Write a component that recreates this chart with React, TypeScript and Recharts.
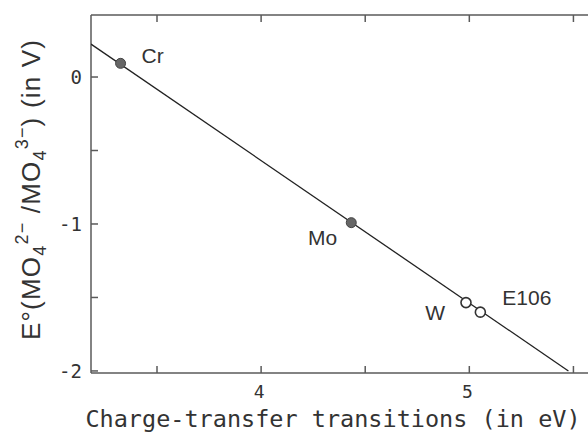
import { ScatterChart, Scatter, XAxis, YAxis } from 'recharts';

// Group 6 oxo-anions and the superheavy E106 analogue
const elements = ['Cr', 'Mo', 'W', 'E106'];
const transitionEnergy = [3.325, 4.433, 4.984, 5.053];
const redoxPotential = [0.093, -0.991, -1.535, -1.6];
const filled = [true, true, false, false];

// end points of the fitted correlation line
const fitEnergy = [3.183, 5.476];
const fitPotential = [0.224, -2.0];

const xTicks = [3.5, 4, 4.5, 5, 5.5];
const yTicks = [0, -0.5, -1, -1.5, -2];

const points = elements.map((name, i) => ({
  name,
  x: transitionEnergy[i],
  y: redoxPotential[i],
  filled: filled[i],
}));
const fitLine = fitEnergy.map((x, i) => ({ x, y: fitPotential[i] }));

const AXIS = '#5a5a5a';
const INK = '#222';
const MONO = '"DejaVu Sans Mono", monospace';
const SANS = '"Liberation Sans", Arial, sans-serif';

// where each element name sits relative to its marker
const labelPos: Record<string, { dx: number; dy: number; anchor: 'start' | 'end' }> = {
  Cr: { dx: 21, dy: 0, anchor: 'start' },
  Mo: { dx: -14, dy: 22, anchor: 'end' },
  W: { dx: -21, dy: 17, anchor: 'end' },
  E106: { dx: 22, dy: -7, anchor: 'start' },
};

const isWhole = (v: number) => Math.abs(v - Math.round(v)) < 1e-6;

function BottomTick({ x, y, payload }: any) {
  return (
    <g>
      <line x1={x} y1={y} x2={x} y2={y - 7} stroke={AXIS} strokeWidth={1.5} />
      {isWhole(payload.value) && (
        <text x={x - 2} y={y + 25} textAnchor="middle" fontFamily={MONO} fontSize={18} fill="#333">
          {payload.value}
        </text>
      )}
    </g>
  );
}

function TopTick({ x, y }: any) {
  return <line x1={x} y1={y} x2={x} y2={y + 7} stroke={AXIS} strokeWidth={1.5} />;
}

function LeftTick({ x, y, payload }: any) {
  return (
    <g>
      <line x1={x} y1={y} x2={x + 7} y2={y} stroke={AXIS} strokeWidth={1.5} />
      {isWhole(payload.value) && (
        <text x={x - 9} y={y + 7} textAnchor="end" fontFamily={MONO} fontSize={19} fill="#333">
          {payload.value === 0 ? '0' : `-${Math.abs(payload.value)}`}
        </text>
      )}
    </g>
  );
}

function ElementMarker({ cx, cy, payload }: any) {
  const pos = labelPos[payload.name];
  return (
    <g>
      {payload.filled ? (
        <circle cx={cx} cy={cy} r={5} fill="#666" stroke="#444" strokeWidth={1} />
      ) : (
        <circle cx={cx} cy={cy} r={5} fill="#fff" stroke="#333" strokeWidth={1.6} />
      )}
      <text
        x={cx + pos.dx}
        y={cy + pos.dy}
        textAnchor={pos.anchor}
        fontFamily={SANS}
        fontSize={21}
        fill="#333"
      >
        {payload.name}
      </text>
    </g>
  );
}

function YTitle() {
  return (
    <text
      transform="translate(40, 190) rotate(-90)"
      textAnchor="middle"
      fontFamily={SANS}
      fontSize={26}
      fill="#333"
      textLength={300}
      lengthAdjust="spacing"
    >
      E°(MO
      <tspan fontSize={18} dy={6}>4</tspan>
      <tspan fontSize={18} dy={-18}>2−</tspan>
      <tspan dy={12}> /MO</tspan>
      <tspan fontSize={18} dy={6}>4</tspan>
      <tspan fontSize={18} dy={-18}>3−</tspan>
      <tspan dy={12}>) (in V)</tspan>
    </text>
  );
}

function XTitle() {
  return (
    <text x={333} y={427} textAnchor="middle" fontFamily={MONO} fontSize={23.5} fill="#333">
      Charge-transfer transitions (in eV)
    </text>
  );
}

export default function App() {
  return (
    <div style={{ position: 'absolute', left: 0, top: 0, width: 588, height: 443, background: '#fff' }}>
      <ScatterChart width={588} height={443} margin={{ top: 0, right: 0, bottom: 0, left: 0 }}>
        <XAxis
          xAxisId="bottom"
          type="number"
          dataKey="x"
          domain={[3.183, 5.57]}
          allowDataOverflow
          ticks={xTicks}
          height={70}
          stroke={AXIS}
          strokeWidth={1.5}
          tickSize={0}
          tickMargin={0}
          tickLine={false}
          tick={<BottomTick />}
          label={{ content: () => <XTitle /> }}
        />
        <XAxis
          xAxisId="top"
          orientation="top"
          type="number"
          dataKey="x"
          domain={[3.183, 5.57]}
          allowDataOverflow
          ticks={xTicks}
          height={15}
          stroke={AXIS}
          strokeWidth={1.5}
          tickSize={0}
          tickMargin={0}
          tickLine={false}
          tick={<TopTick />}
        />
        <YAxis
          type="number"
          dataKey="y"
          domain={[-2.014, 0.422]}
          allowDataOverflow
          ticks={yTicks}
          width={91}
          stroke={AXIS}
          strokeWidth={1.5}
          tickSize={0}
          tickMargin={0}
          tickLine={false}
          tick={<LeftTick />}
          label={{ content: () => <YTitle /> }}
        />
        <Scatter
          xAxisId="bottom"
          data={fitLine}
          line={{ stroke: INK, strokeWidth: 1.3 }}
          lineType="joint"
          shape={() => <g />}
          isAnimationActive={false}
        />
        <Scatter
          xAxisId="bottom"
          data={points}
          shape={<ElementMarker />}
          isAnimationActive={false}
        />
      </ScatterChart>
    </div>
  );
}
